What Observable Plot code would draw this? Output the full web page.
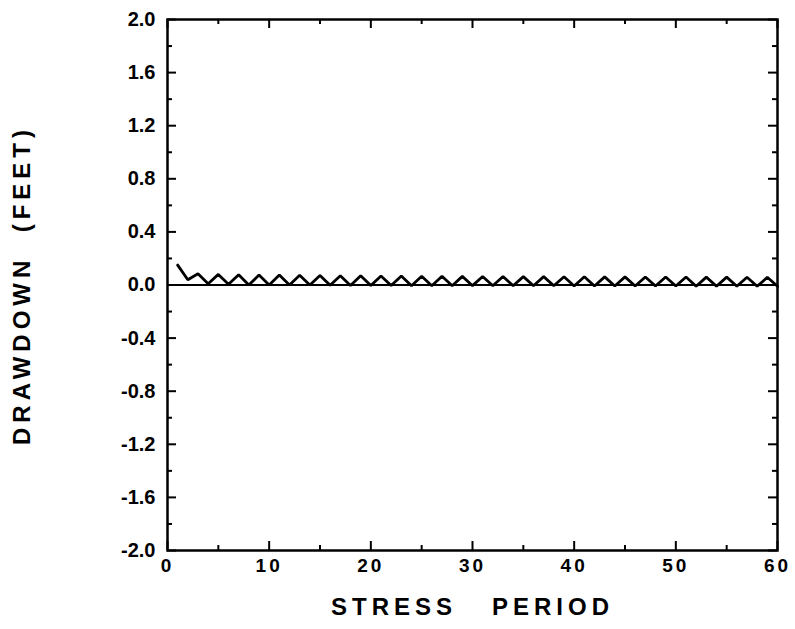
<!DOCTYPE html>
<html><head><meta charset="utf-8">
<script src="https://cdn.jsdelivr.net/npm/d3@7"></script>
<script src="https://cdn.jsdelivr.net/npm/@observablehq/plot@0.6"></script>
<style>body{margin:0;background:#fff} svg{display:block}</style>
</head><body><div id="chart"></div>
<script>
const periods = [1,2,3,4,5,6,7,8,9,10,11,12,13,14,15,16,17,18,19,20,21,22,23,24,25,26,27,28,29,30,31,32,33,34,35,36,37,38,39,40,41,42,43,44,45,46,47,48,49,50,51,52,53,54,55,56,57,58,59,60];
const drawdown = [0.15,0.04,0.085,0.01,0.08,0.005,0.078,0.0,0.075,0.0,0.075,0.0,0.073,0.0,0.072,-0.002,0.07,-0.003,0.07,-0.004,0.068,-0.004,0.068,-0.005,0.066,-0.005,0.066,-0.005,0.065,-0.005,0.064,-0.006,0.064,-0.006,0.063,-0.006,0.063,-0.006,0.062,-0.007,0.062,-0.007,0.061,-0.007,0.061,-0.008,0.06,-0.008,0.06,-0.008,0.06,-0.009,0.059,-0.009,0.059,-0.009,0.058,-0.01,0.058,-0.01];
const xMajor = [0,10,20,30,40,50,60];
const xMinor = [5,15,25,35,45,55];
const yMajor = [-2,-1.6,-1.2,-0.8,-0.4,0,0.4,0.8,1.2,1.6,2];
const yMinor = [-1.8,-1.4,-1.0,-0.6,-0.2,0.2,0.6,1.0,1.4,1.8];
const xTitle = "STRESS   PERIOD";
const yTitle = "DRAWDOWN  (FEET)";

const W = 795, H = 629, mL = 167, mR = 18, mT = 19, mB = 79;
const pw = W - mL - mR, ph = H - mT - mB;
const data = periods.map((p, i) => ({p, v: drawdown[i]}));
const font = "'Liberation Sans', Arial, Helvetica, sans-serif";

const chart = Plot.plot({
  width: W, height: H,
  marginLeft: mL, marginRight: mR, marginTop: mT, marginBottom: mB,
  x: {domain: [0, 60]},
  y: {domain: [-2, 2]},
  style: {fontFamily: font, color: "#000", background: "#fff", overflow: "visible"},
  marks: [
    Plot.axisX(xMajor, {tickSize: 0, tickPadding: 8, fontSize: 19, fontWeight: "bold", tickFormat: d => String(d), label: null}),
    Plot.axisY(yMajor, {tickSize: 0, tickPadding: 12, fontSize: 20, fontWeight: "bold", tickFormat: d => d.toFixed(1), label: null}),
    // inward ticks: bottom & top
    Plot.tickX(xMajor, {x: d => d, insetTop: ph - 9, strokeWidth: 2}),
    Plot.tickX(xMinor, {x: d => d, insetTop: ph - 5, strokeWidth: 2}),
    Plot.tickX(xMajor, {x: d => d, insetBottom: ph - 9, strokeWidth: 2}),
    Plot.tickX(xMinor, {x: d => d, insetBottom: ph - 5, strokeWidth: 2}),
    // inward ticks: left & right
    Plot.tickY(yMajor, {y: d => d, insetRight: pw - 9, strokeWidth: 2}),
    Plot.tickY(yMinor, {y: d => d, insetRight: pw - 5, strokeWidth: 2}),
    Plot.tickY(yMajor, {y: d => d, insetLeft: pw - 9, strokeWidth: 2}),
    Plot.tickY(yMinor, {y: d => d, insetLeft: pw - 5, strokeWidth: 2}),
    Plot.ruleY([0], {strokeWidth: 2}),
    Plot.line(data, {x: "p", y: "v", strokeWidth: 2.8, strokeLinejoin: "miter"}),
    Plot.frame({strokeWidth: 2.5}),
    Plot.text([xTitle], {frameAnchor: "bottom", dy: 64, fontSize: 24, fontWeight: "bold", textAnchor: "middle", text: d => d}),
    Plot.text([yTitle], {frameAnchor: "left", dx: -145, rotate: -90, fontSize: 24, fontWeight: "bold", textAnchor: "middle", text: d => d})
  ]
});
d3.select(chart).selectAll("text").each(function() {
  const t = this.textContent;
  const s = d3.select(this);
  s.style("white-space", "pre");
  if (t === xTitle || t === yTitle) s.attr("letter-spacing", "5px");
  else if (/^\d+$/.test(t)) s.attr("letter-spacing", "3px");
});
document.getElementById("chart").appendChild(chart);
</script>
</body></html>
